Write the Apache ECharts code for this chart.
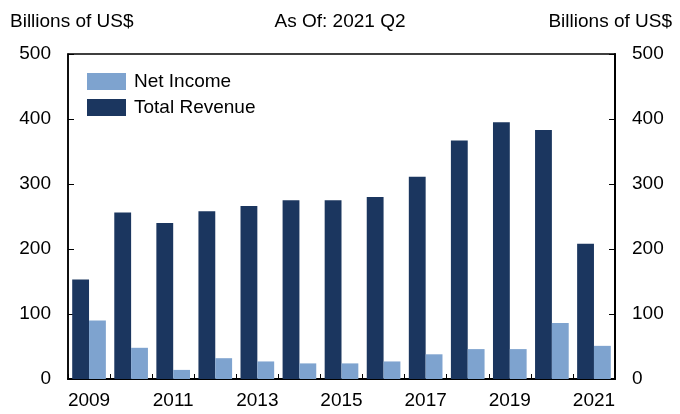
<!DOCTYPE html>
<html>
<head>
<meta charset="utf-8">
<script src="https://cdn.jsdelivr.net/npm/echarts@6/dist/echarts.min.js"></script>
<style>
  html, body { margin: 0; padding: 0; background: #fff; }
  #chart { width: 680px; height: 414px; }
</style>
</head>
<body>
<div id="chart"></div>
<script>
// Annual figures, billions of US$
const years = ['2009','2010','2011','2012','2013','2014','2015','2016','2017','2018','2019','2020','2021'];
const totalRevenue = [153, 256, 240, 258, 266, 275, 275, 280, 311, 367, 395, 383, 208];
const netIncome = [90, 48, 14, 32, 27, 24, 24, 27, 38, 46, 46, 86, 51];
const yTicks = [0, 100, 200, 300, 400, 500];

const FONT = 'Liberation Sans, Arial, sans-serif';
const DARK = '#1b365f';
const LIGHT = '#7ea3cf';

const chart = echarts.init(document.getElementById('chart'), null, { renderer: 'canvas' });

const yAxisBase = (pos) => ({
  type: 'value',
  position: pos,
  min: yTicks[0],
  max: yTicks[yTicks.length - 1],
  interval: yTicks[1] - yTicks[0],
  splitLine: { show: false },
  axisLine: { show: true, lineStyle: { color: '#000', width: pos === 'right' ? 2 : 1.5 } },
  axisTick: { show: true, inside: true, length: 6, lineStyle: { color: '#000', width: 1 } },
  axisLabel: { color: '#000', fontFamily: FONT, fontSize: 19, margin: 17 }
});

const headStyle = { fontFamily: FONT, fontSize: 19, fontWeight: 'normal', color: '#000' };

chart.setOption({
  animation: false,
  textStyle: { fontFamily: FONT },
  title: [
    { text: 'Billions of US$', left: 5, top: 7, textStyle: headStyle },
    { text: 'As Of: 2021 Q2', left: 'center', top: 7, textStyle: headStyle },
    { text: 'Billions of US$', right: 3, top: 7, textStyle: headStyle }
  ],
  legend: {
    data: ['Net Income', 'Total Revenue'],
    orient: 'vertical',
    left: 87,
    top: 72,
    padding: 0,
    itemWidth: 39,
    itemHeight: 17,
    itemGap: 7,
    icon: 'rect',
    textStyle: { fontFamily: FONT, fontSize: 19, color: '#000', padding: [0, 0, 0, 3] }
  },
  grid: {
    left: 68, right: 65, top: 54, bottom: 35,
    show: true, borderColor: '#000', borderWidth: 1.5, backgroundColor: 'transparent'
  },
  xAxis: {
    type: 'category',
    data: years,
    axisLine: { show: true, lineStyle: { color: '#000', width: 2 } },
    axisTick: { show: true, inside: true, length: 5, interval: 0, alignWithLabel: false, lineStyle: { color: '#000' } },
    axisLabel: { color: '#000', fontFamily: FONT, fontSize: 19, interval: 1, margin: 12 }
  },
  yAxis: [yAxisBase('left'), yAxisBase('right')],
  series: [
    {
      name: 'Total Revenue', type: 'bar', data: totalRevenue,
      barGap: '0%', barCategoryGap: '20%',
      itemStyle: { color: DARK }
    },
    {
      name: 'Net Income', type: 'bar', data: netIncome,
      barGap: '0%', barCategoryGap: '20%',
      itemStyle: { color: LIGHT }
    }
  ]
});
</script>
</body>
</html>
